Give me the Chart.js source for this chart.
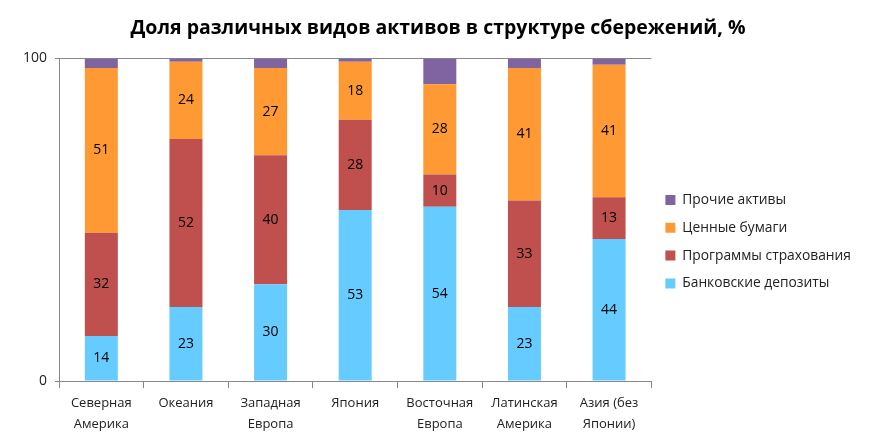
<!DOCTYPE html>
<html>
<head>
<meta charset="utf-8">
<script src="https://cdn.jsdelivr.net/npm/chart.js@4/dist/chart.umd.min.js"></script>
<style>
  html, body { margin: 0; padding: 0; background: #fff; }
  #wrap { width: 875px; height: 445px; }
</style>
</head>
<body>
<div id="wrap"><canvas id="chart" width="875" height="445"></canvas></div>
<script>
// Regions and series (%)
const regions = [
  ["Северная", "Америка"], "Океания", ["Западная", "Европа"], "Япония",
  ["Восточная", "Европа"], ["Латинская", "Америка"], ["Азия (без", "Японии)"]
];
const deposits = [14, 23, 30, 53, 54, 23, 44];
const insurance = [32, 52, 40, 28, 10, 33, 13];
const securities = [51, 24, 27, 18, 28, 41, 41];
const other = [3, 1, 3, 1, 8, 3, 2];

const FONT = "'Open Sans', 'Noto Sans', sans-serif";

// simple value labels in the middle of each segment
const segmentLabels = {
  id: "segmentLabels",
  afterDatasetsDraw(chart) {
    const ctx = chart.ctx;
    ctx.save();
    ctx.font = "14px " + FONT;
    ctx.fillStyle = "#000";
    ctx.textAlign = "center";
    ctx.textBaseline = "middle";
    chart.data.datasets.forEach((ds, i) => {
      if (ds.noLabels) return;
      chart.getDatasetMeta(i).data.forEach((bar, j) => {
        const y = (bar.y + bar.base) / 2;
        ctx.fillText(ds.data[j], bar.x, y);
      });
    });
    ctx.restore();
  }
};

new Chart(document.getElementById("chart"), {
  type: "bar",
  data: {
    labels: regions,
    datasets: [
      { label: "Банковские депозиты", data: deposits, backgroundColor: "#66CCFF" },
      { label: "Программы страхования", data: insurance, backgroundColor: "#C0504D" },
      { label: "Ценные бумаги", data: securities, backgroundColor: "#FF9933" },
      { label: "Прочие активы", data: other, backgroundColor: "#8064A2", noLabels: true }
    ]
  },
  options: {
    responsive: false,
    animation: false,
    barPercentage: 0.39,
    categoryPercentage: 1,
    layout: { padding: { left: 15, right: 14, top: 0, bottom: 6 } },
    plugins: {
      title: {
        display: true,
        text: "Доля различных видов активов в структуре сбережений, %",
        font: { family: FONT, size: 19.5, weight: "bold" },
        color: "#000",
        padding: { top: 17, bottom: 18 }
      },
      legend: {
        position: "right",
        reverse: true,
        title: { display: true, text: " ", font: { size: 12 }, padding: { top: 0, bottom: 30 } },
        labels: {
          boxWidth: 10,
          boxHeight: 10,
          padding: 14,
          color: "#222",
          font: { family: FONT, size: 13.8 }
        }
      },
      tooltip: { enabled: false }
    },
    scales: {
      x: {
        stacked: true,
        grid: { drawOnChartArea: false, color: "#888", tickLength: 7, offset: true },
        border: { color: "#888" },
        ticks: { color: "#222", font: { family: FONT, size: 13, lineHeight: 1.65 }, padding: 4, maxRotation: 0 }
      },
      y: {
        stacked: true,
        min: 0,
        max: 100,
        grid: { color: "#888", tickLength: 4, drawOnChartArea: true },
        border: { color: "#888" },
        ticks: { stepSize: 100, color: "#222", font: { family: FONT, size: 14 }, padding: 8 }
      }
    }
  },
  plugins: [segmentLabels]
});
</script>
</body>
</html>
